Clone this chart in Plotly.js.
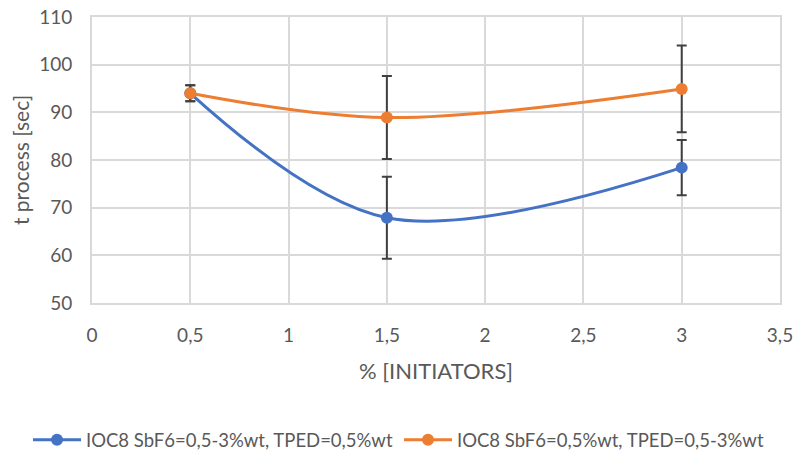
<!DOCTYPE html>
<html>
<head>
<meta charset="utf-8">
<script src="https://cdn.plot.ly/plotly-3.0.1.min.js"></script>
<style>html,body{margin:0;padding:0;background:#fff;}#chart{width:797px;height:452px;}</style>
</head>
<body>
<div id="chart"></div>
<script>
const xValues = [0.5, 1.5, 3];
const seriesNames = ["IOC8 SbF6=0,5-3%wt, TPED=0,5%wt", "IOC8 SbF6=0,5%wt, TPED=0,5-3%wt"];
const blueValues = [94.0, 67.9, 78.4];
const blueErrors = [1.7, 8.6, 5.8];
const orangeValues = [94.0, 88.9, 94.9];
const orangeErrors = [1.7, 8.7, 9.1];
const xTicks = [0, 0.5, 1, 1.5, 2, 2.5, 3, 3.5];
const yTicks = [50, 60, 70, 80, 90, 100, 110];

const FONT = "Lato, sans-serif";
const errStyle = {type: 'data', visible: true, color: '#404040', thickness: 2, width: 5};

const traces = [
  {x: xValues, y: blueValues, name: seriesNames[0], type: 'scatter', mode: 'lines+markers',
   line: {color: '#4472C4', width: 3, shape: 'spline', smoothing: 1},
   marker: {color: '#4472C4', size: 12},
   error_y: Object.assign({array: blueErrors}, errStyle)},
  {x: xValues, y: orangeValues, name: seriesNames[1], type: 'scatter', mode: 'lines+markers',
   line: {color: '#ED7D31', width: 3, shape: 'spline', smoothing: 1},
   marker: {color: '#ED7D31', size: 12},
   error_y: Object.assign({array: orangeErrors}, errStyle)}
];

const layout = {
  width: 797, height: 452,
  margin: {l: 92, r: 17, t: 17, b: 149, autoexpand: false},
  paper_bgcolor: '#fff', plot_bgcolor: '#fff',
  separators: ', ',
  font: {family: FONT, color: '#595959', size: 19},
  showlegend: true,
  legend: {orientation: 'h', x: -0.093, xanchor: 'left', xref: 'paper',
           y: -0.48, yanchor: 'middle', yref: 'paper',
           font: {size: 18.5, color: '#595959'}, itemwidth: 48,
           entrywidth: 308, entrywidthmode: 'pixels'},
  xaxis: {range: [0, 3.5], tickvals: xTicks, showgrid: true, gridcolor: '#D9D9D9', gridwidth: 2,
          zeroline: false, showline: true, linecolor: '#D9D9D9', linewidth: 2, mirror: true,
          ticks: 'outside', ticklen: 14, tickcolor: 'rgba(0,0,0,0)', automargin: false,
          tickfont: {size: 19, color: '#595959'},
          title: {text: '% [INITIATORS]', font: {size: 22, color: '#595959'}, standoff: 19}},
  yaxis: {range: [50, 110], tickvals: yTicks, showgrid: true, gridcolor: '#D9D9D9', gridwidth: 2,
          zeroline: false, showline: true, linecolor: '#D9D9D9', linewidth: 2, mirror: true,
          ticks: 'outside', ticklen: 14, tickcolor: 'rgba(0,0,0,0)', automargin: false,
          tickfont: {size: 19, color: '#595959'},
          title: {text: 't process [sec]', font: {size: 21, color: '#595959'}, standoff: 4}}
};

Plotly.newPlot('chart', traces, layout, {displayModeBar: false, staticPlot: true});
</script>
</body>
</html>
